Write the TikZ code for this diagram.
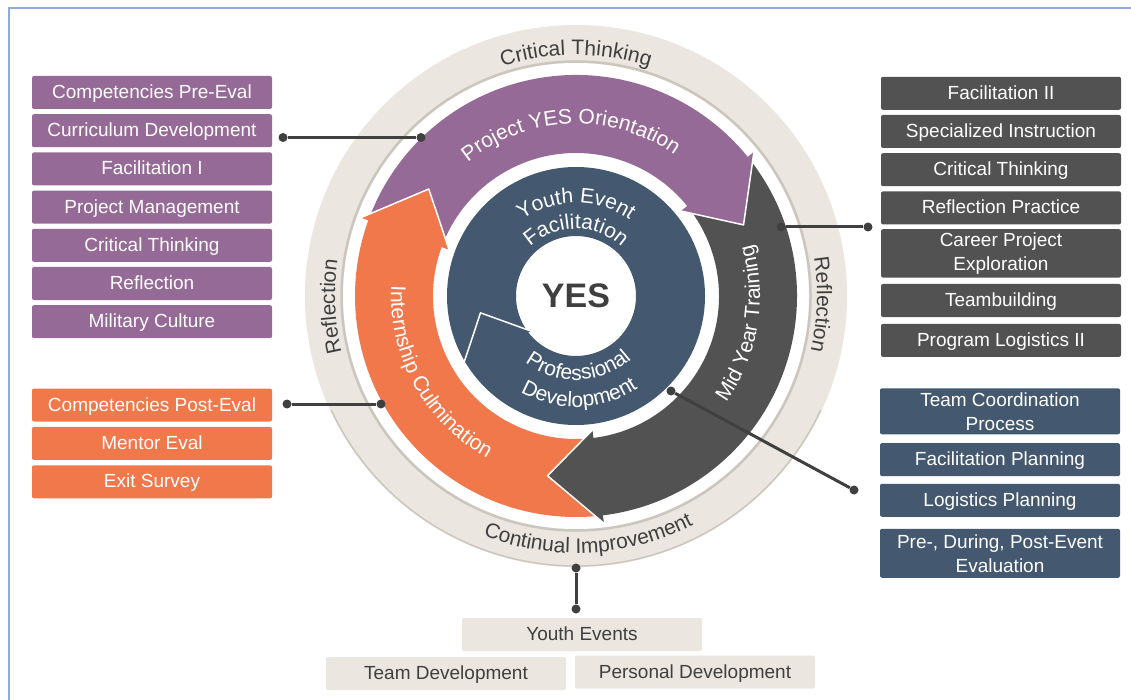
\documentclass[tikz,border=0pt]{standalone}
\usepackage{fontspec}
\setmainfont{Liberation Sans}
\usetikzlibrary{positioning,decorations.text}

\definecolor{yespurple}{HTML}{966A96}
\definecolor{yesorange}{HTML}{F1784B}
\definecolor{yesgray}{HTML}{525252}
\definecolor{yesblue}{HTML}{44596F}
\definecolor{yesbeige}{HTML}{EBE7E0}
\definecolor{yesrim}{HTML}{CBC7BF}
\definecolor{yesline}{HTML}{404040}
\definecolor{yesdark}{HTML}{3F3F3F}
\definecolor{yesframe}{HTML}{8FAADC}

\newcommand{\boxfont}{\fontsize{19}{24}\selectfont}
\newcommand{\arcfont}{\fontsize{21}{24}\selectfont}

\begin{document}
\begin{tikzpicture}[x=1pt,y=1pt,
    item/.style={rectangle,rounded corners=2pt,minimum width=240pt,inner sep=0pt,
      align=center,font=\boxfont,text=white},
    single/.style={item,minimum height=33pt,text height=13.7pt,text depth=1.5pt},
    double/.style={item,minimum height=48pt},
    dot/.style={circle,fill=yesline,inner sep=0pt,minimum size=9pt},
    link/.style={draw=yesline,line width=3pt},
    headline/.style={draw=white,line width=1.5pt,line join=round},
    ringtext/.style={decorate,decoration={text along path,text align=center,
      text color=yesdark,text={|\arcfont|#1}}},
    bandtext/.style={decorate,decoration={text along path,text align=center,
      text color=white,text={|\arcfont|#1}}}]

  \useasboundingbox (0,0) rectangle (1131,-700);
  \fill[white] (0,0) rectangle (1131,-700);
  \draw[yesframe,line width=2pt] (9,-700) -- (9,-8) -- (1131,-8);

  \begin{scope}[shift={(576,-296)}]
    % outer ring
    \fill[yesbeige,even odd rule] (0,0) circle[radius=271pt] (0,0) circle[radius=233pt];
    \draw[yesrim,line width=2.5pt] (0,0) circle[radius=234.5pt];
    \draw[yesrim,line width=1.5pt] (205:270pt) arc[start angle=205,end angle=335,radius=270pt];

    % arrow bands
    \fill[yespurple] (158:221pt) arc[start angle=158,end angle=38,radius=221pt]
      -- (38:143pt) arc[start angle=38,end angle=158,radius=143pt] -- cycle;
    \fill[yesgray] (37:221pt) arc[start angle=37,end angle=-84,radius=221pt]
      -- (-84:143pt) arc[start angle=-84,end angle=37,radius=143pt] -- cycle;
    \fill[yesorange] (-85:221pt) arc[start angle=-85,end angle=-201,radius=221pt]
      -- (-201:143pt) arc[start angle=-201,end angle=-85,radius=143pt] -- cycle;

    % arrow heads
    \fill[yespurple] (39:229pt) -- (23:182pt) -- (39:135pt) -- cycle;
    \draw[headline] (39:229pt) -- (23:182pt) -- (39:135pt);
    \fill[yesgray] (-83:229pt) -- (-99:182pt) -- (-83:135pt) -- cycle;
    \draw[headline] (-83:229pt) -- (-99:182pt) -- (-83:135pt);
    \fill[yesorange] (160:229pt) -- (144:182pt) -- (160:135pt) -- cycle;
    \draw[headline] (160:229pt) -- (144:182pt) -- (160:135pt);

    % inner ring
    \fill[yesblue,even odd rule] (0,0) circle[radius=129pt] (0,0) circle[radius=60pt];
    \fill[yesblue] (211:131pt) -- (190:97pt) -- (218:57pt) -- cycle;
    \draw[headline] (211:131pt) -- (190:97pt) -- (218:57pt);

    \node[font=\fontsize{34}{34}\selectfont\bfseries,text=yesdark] (yes) at (0,0) {YES};

    % ring texts
    \path[ringtext={Critical Thinking}] (140:241pt) arc[start angle=140,end angle=40,radius=241pt];
    \path[ringtext={Continual Improvement}] (223:257pt) arc[start angle=223,end angle=323,radius=257pt];
    \path[ringtext={Reflection}] (212.5:241pt) arc[start angle=212.5,end angle=152.5,radius=241pt];
    \path[ringtext={Reflection}] (28:241pt) arc[start angle=28,end angle=-32,radius=241pt];

    % band texts
    \path[bandtext={Project YES Orientation}] (150:172pt) arc[start angle=150,end angle=34,radius=172pt];
    \path[bandtext={Mid Year Training}] (-60:184pt) arc[start angle=-60,end angle=41,radius=184pt];
    \path[bandtext={Internship Culmination}] (160:185pt) arc[start angle=160,end angle=258,radius=185pt];
    \path[bandtext={Youth Event}] (150:93pt) arc[start angle=150,end angle=30,radius=93pt];
    \path[bandtext={Facilitation}] (150:67pt) arc[start angle=150,end angle=30,radius=67pt];
    \path[bandtext={Professional}] (212:84pt) arc[start angle=212,end angle=332,radius=84pt];
    \path[bandtext={Development}] (212:111pt) arc[start angle=212,end angle=332,radius=111pt];
  \end{scope}

  % purple column
  \node[single,fill=yespurple] (pre) at (152,-92.5) {Competencies Pre-Eval};
  \node[single,fill=yespurple,below=4.8pt of pre] (cur) {Curriculum Development};
  \node[single,fill=yespurple,below=4.8pt of cur] (faci) {Facilitation I};
  \node[single,fill=yespurple,below=4.8pt of faci] (pm) {Project Management};
  \node[single,fill=yespurple,below=4.8pt of pm] (cta) {Critical Thinking};
  \node[single,fill=yespurple,below=4.8pt of cta] (refa) {Reflection};
  \node[single,fill=yespurple,below=4.8pt of refa] (mil) {Military Culture};

  % orange column
  \node[single,fill=yesorange] (post) at (152,-405) {Competencies Post-Eval};
  \node[single,fill=yesorange,below=5pt of post] (ment) {Mentor Eval};
  \node[single,fill=yesorange,below=5pt of ment] (exit) {Exit Survey};

  % gray column
  \node[single,fill=yesgray] (facii) at (1001,-93.3) {Facilitation II};
  \node[single,fill=yesgray,below=4.8pt of facii] (spec) {Specialized Instruction};
  \node[single,fill=yesgray,below=4.8pt of spec] (ctb) {Critical Thinking};
  \node[single,fill=yesgray,below=4.8pt of ctb] (refp) {Reflection Practice};
  \node[double,fill=yesgray,minimum height=48.4pt,below=4.4pt of refp] (car) {Career Project\\Exploration};
  \node[single,fill=yesgray,below=6pt of car] (team) {Teambuilding};
  \node[single,fill=yesgray,below=6.5pt of team] (logii) {Program Logistics II};

  % blue column
  \node[double,fill=yesblue,minimum height=46pt] (coord) at (1000,-411.3) {Team Coordination\\Process};
  \node[single,fill=yesblue,below=8.4pt of coord] (facp) {Facilitation Planning};
  \node[single,fill=yesblue,below=7.3pt of facp] (logp) {Logistics Planning};
  \node[double,fill=yesblue,minimum height=49pt,below=11.6pt of logp] (eval) {Pre-, During, Post-Event\\Evaluation};

  % beige row
  \node[single,fill=yesbeige,text=yesdark] (yev) at (582,-634.5) {Youth Events};
  \node[single,fill=yesbeige,text=yesdark] (tdev) at (446,-673.5) {Team Development};
  \node[single,fill=yesbeige,text=yesdark] (pdev) at (695,-672) {Personal Development};

  % connectors
  \node[dot] (pa) at (283,-137.5) {};
  \node[dot] (pb) at (421,-137.5) {};
  \node[dot] (ga) at (868,-227) {};
  \node[dot] (gb) at (781,-227) {};
  \node[dot] (oa) at (287,-404) {};
  \node[dot] (ob) at (381,-404) {};
  \node[dot] (ba) at (671,-391) {};
  \node[dot] (bb) at (854,-490) {};
  \node[dot] (ya) at (576,-568) {};
  \node[dot] (yb) at (576,-609) {};
  \draw[link] (pa) -- (pb);
  \draw[link] (ga) -- (gb);
  \draw[link] (oa) -- (ob);
  \draw[link] (ba) -- (bb);
  \draw[link] (ya) -- (yb);
\end{tikzpicture}
\end{document}
